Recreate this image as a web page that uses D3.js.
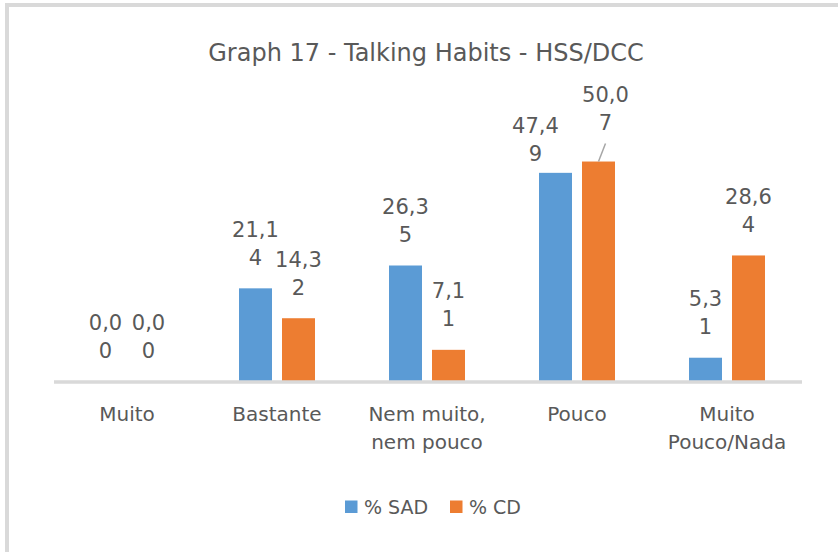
<!DOCTYPE html>
<html>
<head>
<meta charset="utf-8">
<script src="https://cdn.jsdelivr.net/npm/d3@7"></script>
<style>
    body { margin: 0; background: #fff; }
    text { font-family: 'DejaVu Sans', sans-serif; fill: #595959; }
</style>
</head>
<body>
<div class="bar-chart-container"></div>
<script>
//Data
const categories = ['Muito', 'Bastante', 'Nem muito, nem pouco', 'Pouco', 'Muito Pouco/Nada'];
// category labels as Excel wrapped them
const categoryLines = [['Muito'], ['Bastante'], ['Nem muito,', 'nem pouco'], ['Pouco'], ['Muito', 'Pouco/Nada']];
const seriesNames = ['% SAD', '% CD'];
const sadValues = [0.00, 21.14, 26.35, 47.49, 5.31];
const cdValues = [0.00, 14.32, 7.11, 50.07, 28.64];
const seriesColors = ['#5b9bd5', '#ed7d31'];
const yMaxValue = 60;
// labels Excel moved away from default spot: [category, series, dx, dy, leader]
const movedLabels = [['Pouco', '% SAD', -20, 12, false], ['Pouco', '% CD', 7, -8, true]];

const svg_width = 838;
const svg_height = 552;
const chart_margin = { top: 118, right: 36, bottom: 171, left: 52 };

const svg = d3.select('.bar-chart-container').append('svg')
    .attr('width', svg_width).attr('height', svg_height);

// frame (only top & left visible in the crop)
svg.append('path')
    .attr('d', `M7,${svg_height + 5}V5H${svg_width + 5}`)
    .attr('fill', 'none').attr('stroke', '#d9d9d9').attr('stroke-width', 4);

//Title
svg.append('text').attr('x', 426).attr('y', 61)
    .attr('text-anchor', 'middle').style('font-size', '24px')
    .text('Graph 17 - Talking Habits - HSS/DCC');

//scale
const x0 = d3.scaleBand().domain(categories)
    .range([chart_margin.left, svg_width - chart_margin.right]);
const bw = x0.bandwidth();
const x1 = d3.scaleBand().domain(seriesNames)
    .range([bw / 2 - 48, bw / 2 + 48]).padding(0.2326);
const yScale = d3.scaleLinear([0, yMaxValue], [svg_height - chart_margin.bottom, chart_margin.top]);

const barData = [];
categories.forEach((c, i) => {
    barData.push({ category: c, series: seriesNames[0], value: sadValues[i] });
    barData.push({ category: c, series: seriesNames[1], value: cdValues[i] });
});

//Bars
svg.append('g').attr('class', 'bars')
    .selectAll('rect').data(barData).join('rect')
    .attr('x', d => x0(d.category) + x1(d.series))
    .attr('y', d => yScale(d.value))
    .attr('width', x1.bandwidth())
    .attr('height', d => yScale(0) - yScale(d.value))
    .attr('fill', d => seriesColors[seriesNames.indexOf(d.series)]);

//x axis: thick grey baseline, no ticks
const xAxis = d3.axisBottom(x0).tickSize(0).tickFormat('');
const xAxisDraw = svg.append('g').attr('class', 'x axis')
    .attr('transform', `translate(0,${yScale(0) + 1})`).call(xAxis);
xAxisDraw.select('.domain').attr('stroke', '#d9d9d9').attr('stroke-width', 3.5)
    .attr('d', `M${chart_margin.left + 2},0H${svg_width - chart_margin.right}`);

// category labels
svg.append('g').selectAll('text').data(categories).join('text')
    .attr('text-anchor', 'middle').style('font-size', '20px')
    .attr('transform', d => `translate(${x0(d) + bw / 2},421)`)
    .selectAll('tspan').data((d, i) => categoryLines[i]).join('tspan')
    .attr('x', 0).attr('y', (d, i) => i * 28).text(d => d);

//Data labels, last digit wraps to a second line like in Excel
const fmt = v => d3.format('.2f')(v).replace('.', ',');
const labelG = svg.append('g').attr('class', 'labels');
barData.forEach(d => {
    const moved = movedLabels.find(m => m[0] === d.category && m[1] === d.series);
    const dx = moved ? moved[2] : 0;
    const dy = moved ? moved[3] : 0;
    const cx = x0(d.category) + x1(d.series) + x1.bandwidth() / 2 + dx;
    const lastY = yScale(d.value) - 31 + 7.5 + dy;
    const s = fmt(d.value);
    const lines = [s.slice(0, s.length - 1), s.slice(-1)];
    const t = labelG.append('text').attr('text-anchor', 'middle').style('font-size', '21px');
    lines.forEach((l, i) => {
        t.append('tspan').attr('x', cx).attr('y', lastY - (lines.length - 1 - i) * 28).text(l);
    });
    if (moved && moved[4]) {
        // leader line from bar top up to the label
        labelG.append('line')
            .attr('x1', cx - dx).attr('y1', yScale(d.value))
            .attr('x2', cx).attr('y2', yScale(d.value) - 18)
            .attr('stroke', '#a6a6a6').attr('stroke-width', 1.5);
    }
});

//Legend
const legend = svg.append('g').attr('class', 'legend')
    .attr('transform', 'translate(345,507)');
const legendOffsets = [0, 105];
const legendItem = legend.selectAll('g').data(seriesNames).join('g')
    .attr('transform', (d, i) => `translate(${legendOffsets[i]},0)`);
legendItem.append('rect').attr('x', 0).attr('y', -6.5)
    .attr('width', 12.5).attr('height', 12.5)
    .attr('fill', (d, i) => seriesColors[i]);
legendItem.append('text').attr('x', 19).attr('y', 7)
    .style('font-size', '19px').text(d => d);
</script>
</body>
</html>
